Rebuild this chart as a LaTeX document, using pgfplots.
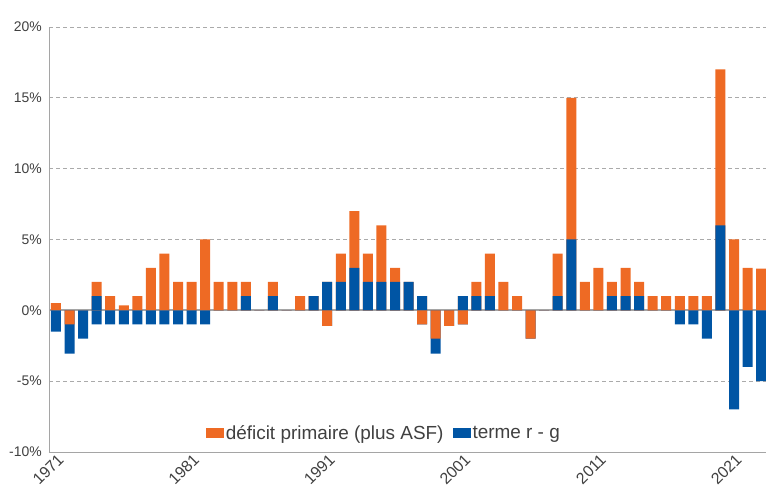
\documentclass[border=0pt]{standalone}
\usepackage{fontspec}
\setmainfont{Liberation Sans}
\usepackage{pgfplots}
\usepackage{pgfplotstable}
\pgfplotsset{compat=1.18}
\definecolor{cOr}{RGB}{238,106,36}
\definecolor{cBl}{RGB}{0,85,164}
\definecolor{cTxt}{RGB}{64,64,64}
\definecolor{cGrid}{RGB}{170,170,170}
\definecolor{cAx}{RGB}{165,165,165}

% bp = r-g positive part, op = primary deficit positive part,
% on = primary deficit negative part, bn = r-g negative part
\pgfplotstableread{
year bp op on bn
1971 0 0.5 0 -1.5
1972 0 0 -1 -2.05
1973 0 0 0 -2
1974 1 1 0 -1
1975 0 1 0 -1
1976 0 0.35 0 -1
1977 0 1 0 -1
1978 0 3 0 -1
1979 0 4 0 -1
1980 0 2 0 -1
1981 0 2 0 -1
1982 0 5 0 -1
1983 0 2 0 0
1984 0 2 0 0
1985 1 1 0 0
1986 0 0 0 0
1987 1 1 0 0
1988 0 0 0 0
1989 0 1 0 0
1990 1 0 0 0
1991 2 0 -1.1 0
1992 2 2 0 0
1993 3 4 0 0
1994 2 2 0 0
1995 2 4 0 0
1996 2 1 0 0
1997 2 0 0 0
1998 1 0 -1 0
1999 0 0 -2 -1.05
2000 0 0 -1.1 0
2001 1 0 -1 0
2002 1 1 0 0
2003 1 3 0 0
2004 0 2 0 0
2005 0 1 0 0
2006 0 0 -2 0
2007 0 0 0 0
2008 1 3 0 0
2009 5 10 0 0
2010 0 2 0 0
2011 0 3 0 0
2012 1 1 0 0
2013 1 2 0 0
2014 1 1 0 0
2015 0 1 0 0
2016 0 1 0 0
2017 0 1 0 -1
2018 0 1 0 -1
2019 0 1 0 -2
2020 6 11 0 0
2021 0 5 0 -7
2022 0 3 0 -4
2023 0 2.95 0 -5
}\data

\begin{document}
\begin{tikzpicture}
\begin{axis}[
  at={(49bp,34bp)}, anchor=south west,
  scale only axis, width=717bp, height=425bp,
  xmin=1970.484, xmax=2023.36, ymin=-10, ymax=20,
  axis x line=bottom, axis y line=left,
  axis line style={-, draw=cAx, line width=1pt},
  ytick={-10,-5,0,5,10,15,20},
  yticklabel={\pgfmathprintnumber{\tick}\%},
  xtick={1971,1981,1991,2001,2011,2021},
  /pgf/number format/1000 sep={},
  /pgf/number format/assume math mode=true,
  major tick length=0pt,
  ymajorgrids,
  grid style={draw=cGrid, line width=1pt, dash pattern=on 4bp off 3bp},
  yticklabel style={font=\fontsize{14}{14}\selectfont, text=cTxt, inner sep=0pt, xshift=-7bp},
  xticklabel style={font=\fontsize{16}{16}\selectfont, text=cTxt, rotate=45, anchor=north east, inner sep=0pt, yshift=-1bp},
  extra y ticks={0}, extra y tick labels={},
  extra y tick style={grid style={solid, draw=cAx, line width=1.8pt}},
  ybar, bar width=10bp,
  legend style={at={(0.467,0.045)}, anchor=center, draw=none, fill=none,
    legend columns=-1, font=\fontsize{19}{19}\selectfont, text=cTxt,
    /tikz/every even column/.append style={column sep=8bp},
    nodes={inner sep=1.5bp}},
  legend image code/.code={\fill[#1] (0bp,-5bp) rectangle (18bp,5bp);},
]
\addplot[fill=cOr, draw=none, bar shift=0pt] table[x=year, y expr=\thisrow{bp}+\thisrow{op}]{\data};
\addlegendentry{déficit primaire (plus ASF)}
\addplot[fill=cBl, draw=none, bar shift=0pt] table[x=year, y=bp]{\data};
\addlegendentry{terme r - g}
\addplot[fill=cBl, draw=none, bar shift=0pt, forget plot] table[x=year, y expr=\thisrow{on}+\thisrow{bn}]{\data};
\addplot[fill=cOr, draw=none, bar shift=0pt, forget plot] table[x=year, y=on]{\data};
\end{axis}
\pgfresetboundingbox
\useasboundingbox (0,0) rectangle (766bp,486bp);
\end{tikzpicture}
\end{document}
